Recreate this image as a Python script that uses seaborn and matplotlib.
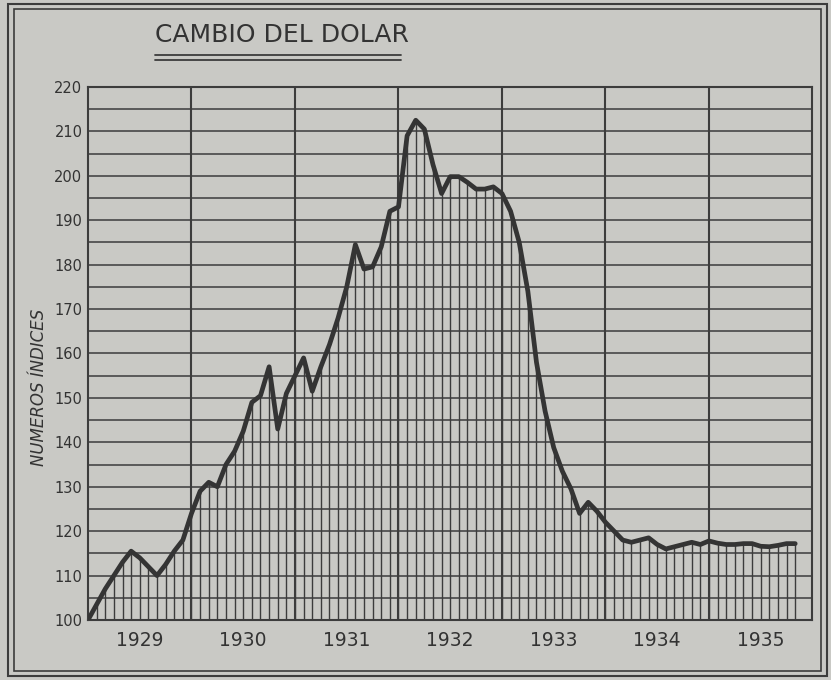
import numpy as np
import pandas as pd
import seaborn as sns
import matplotlib.pyplot as plt
from matplotlib.patches import Rectangle
from matplotlib.lines import Line2D

## Monthly index values, Jan 1929 .. Nov 1935
index_values = [
    100, 103.5, 107, 110, 113, 115.5, 114, 112, 110, 112.5, 115.5, 118,      # 1929
    124, 129, 131, 130, 135, 138, 142.5, 149, 150.5, 157, 143, 151,          # 1930
    155, 159, 151.5, 157, 162, 168, 175, 184.5, 179, 179.5, 184, 192,        # 1931
    193, 209, 212.5, 210.5, 202.5, 196, 199.8, 199.8, 198.5, 197, 197, 197.5,  # 1932
    196, 192, 185, 174, 158, 147, 138.8, 133.5, 129.5, 124, 126.5, 124.5,    # 1933
    122, 120, 118, 117.5, 118, 118.5, 117, 116, 116.5, 117, 117.5, 117,      # 1934
    117.8, 117.3, 117, 117, 117.2, 117.2, 116.6, 116.5, 116.8, 117.2, 117.2, # 1935
]
years = ["1929", "1930", "1931", "1932", "1933", "1934", "1935"]
y_ticks = [100, 110, 120, 130, 140, 150, 160, 170, 180, 190, 200, 210, 220]
title = "CAMBIO DEL DOLAR"
y_label = "NUMEROS ÍNDICES"

df = pd.DataFrame({"month": np.arange(len(index_values)), "value": index_values})

paper = "#c9c9c5"
ink = "#3c3c3c"

sns.set_theme(style="white", rc={"axes.facecolor": paper, "figure.facecolor": paper})
plt.rcParams["font.family"] = ["DejaVu Sans"]

fig = plt.figure(figsize=(8.31, 6.80), dpi=100)
ax = fig.add_axes([0.1059, 0.0882, 0.8718, 0.784])

n_months = 12 * len(years)
ax.set_xlim(0, n_months)
ax.set_ylim(100, 220)

## Horizontal rules every 5 units, year dividers full height
for v in np.arange(105, 220, 5):
    ax.axhline(v, color=ink, linewidth=1.1, zorder=1)
for k in range(1, len(years)):
    ax.axvline(12 * k, color=ink, linewidth=1.5, zorder=1)

## Monthly hatching under the curve
ax.vlines(df["month"], 100, df["value"], color=ink, linewidth=1.0, zorder=2)

## The curve
sns.lineplot(data=df, x="month", y="value", ax=ax, color="#343434",
             linewidth=3.4, zorder=3)

ax.set_yticks(y_ticks)
ax.set_yticklabels([str(t) for t in y_ticks], fontsize=10.5, color="#333333")
ax.set_xticks([12 * k + 6 for k in range(len(years))])
ax.set_xticklabels(years, fontsize=13.5, color="#333333")
ax.tick_params(axis="both", length=0, pad=4)
ax.tick_params(axis="x", pad=8)
ax.set_xlabel("")
ax.set_ylabel("")
for s in ax.spines.values():
    s.set_color(ink)
    s.set_linewidth(1.5)

## Title with double underline
fig.text(0.187, 0.948, title, fontsize=18, color="#333333", ha="left", va="center")
fig.add_artist(Line2D([0.187, 0.482], [0.919, 0.919], color=ink, linewidth=1.3))
fig.add_artist(Line2D([0.187, 0.482], [0.912, 0.912], color=ink, linewidth=1.3))

## Axis label
fig.text(0.047, 0.43, y_label, rotation=90, fontsize=12, style="italic",
         color="#333333", ha="center", va="center")

## Double border
fig.add_artist(Rectangle((0.010, 0.006), 0.985, 0.988, transform=fig.transFigure,
                         fill=False, edgecolor=ink, linewidth=1.5))
fig.add_artist(Rectangle((0.017, 0.013), 0.971, 0.974, transform=fig.transFigure,
                         fill=False, edgecolor=ink, linewidth=1.2))

fig.savefig("out.png", dpi=100, facecolor=paper)
